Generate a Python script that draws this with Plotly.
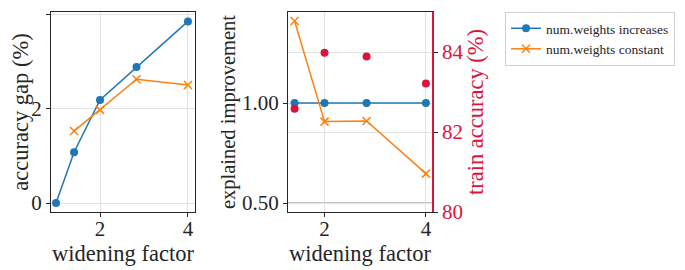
import plotly.graph_objects as go

# Left panel: accuracy gap
x_inc = [1.0, 1.41, 2.0, 2.83, 4.0]
gap_inc = [0.0, 1.08, 2.19, 2.89, 3.86]
x_const = [1.41, 2.0, 2.83, 4.0]
gap_const = [1.53, 1.98, 2.63, 2.51]

# Right panel: explained improvement & train accuracy
x_right = [1.41, 2.0, 2.83, 4.0]
expl_inc = [1.0, 1.0, 1.0, 1.0]
expl_const = [1.41, 0.907, 0.91, 0.647]
train_acc = [82.58, 83.98, 83.89, 83.21]

BLUE = "#1f77b4"
ORANGE = "#ff7f0e"
CRIMSON = "#dc143c"
FONT = "Liberation Serif, serif"
AX = "#262626"
GRID = "#e3e3e3"

# page has an 8px body margin; figure sized to fit visible area
W, H = 677, 262

fig = go.Figure()
fig.add_trace(go.Scatter(x=x_inc, y=gap_inc, mode="lines+markers", name="num.weights increases",
                         line=dict(color=BLUE, width=1.5), marker=dict(symbol="circle", size=8, color=BLUE),
                         xaxis="x", yaxis="y"))
fig.add_trace(go.Scatter(x=x_const, y=gap_const, mode="lines+markers", name="num.weights constant",
                         line=dict(color=ORANGE, width=1.5),
                         marker=dict(symbol="x-thin", size=8, color=ORANGE, line=dict(color=ORANGE, width=1.5)),
                         xaxis="x", yaxis="y"))
fig.add_trace(go.Scatter(x=x_right, y=expl_inc, mode="lines+markers", showlegend=False,
                         line=dict(color=BLUE, width=1.5), marker=dict(symbol="circle", size=8, color=BLUE),
                         xaxis="x2", yaxis="y2"))
fig.add_trace(go.Scatter(x=x_right, y=expl_const, mode="lines+markers", showlegend=False,
                         line=dict(color=ORANGE, width=1.5),
                         marker=dict(symbol="x-thin", size=8, color=ORANGE, line=dict(color=ORANGE, width=1.5)),
                         xaxis="x2", yaxis="y2"))
fig.add_trace(go.Scatter(x=x_right, y=train_acc, mode="markers", showlegend=False,
                         marker=dict(symbol="circle", size=8, color=CRIMSON),
                         xaxis="x2", yaxis="y3"))

tickfont = dict(family=FONT, size=21, color=AX)
titlefont = dict(family=FONT, size=22.5, color=AX)
common = dict(showline=True, linecolor=AX, linewidth=1.2, ticks="outside", ticklen=4,
              tickcolor=AX, tickwidth=1, showgrid=True, gridcolor=GRID, gridwidth=1,
              zeroline=False, tickfont=tickfont, automargin=False)

fig.add_shape(type="line", xref="x2 domain", yref="y2", x0=0, x1=1, y0=0.5, y1=0.5,
              line=dict(color="#c4c4c4", width=2), layer="below")

ydom = [1 - 204 / H, 1 - 4 / H]

fig.update_layout(
    width=W, height=H,
    margin=dict(l=0, r=0, t=0, b=0),
    paper_bgcolor="white", plot_bgcolor="white",
    font=dict(family=FONT, color=AX),
    xaxis=dict(domain=[43 / W, 187 / W], range=[0.886, 4.16], tickvals=[2, 4], mirror=True,
               ticklabelstandoff=-6,
               title=dict(text="widening factor", font=titlefont, standoff=0), anchor="y", **common),
    yaxis=dict(domain=ydom, range=[-0.19, 4.06], tickvals=[0, 2, 4], mirror=True,
               title=dict(text="accuracy gap (%)", font=titlefont, standoff=1), anchor="x", **common),
    xaxis2=dict(domain=[280 / W, 424 / W], range=[1.28, 4.12], tickvals=[2, 4], mirror=True,
                ticklabelstandoff=-6,
                title=dict(text="widening factor", font=titlefont, standoff=0), anchor="y2", **common),
    yaxis2=dict(domain=ydom, range=[0.455, 1.455], tickvals=[0.5, 1.0], ticktext=["0.50", "1.00"],
                title=dict(text="explained improvement", font=dict(family=FONT, size=20.5, color=AX), standoff=0),
                anchor="x2", **common),
    yaxis3=dict(overlaying="y2", side="right", anchor="x2", range=[80, 85], tickvals=[80, 82, 84],
                showline=True, linecolor=CRIMSON, linewidth=1.5, ticks="outside", ticklen=4,
                tickcolor=AX, showgrid=True, gridcolor=GRID, zeroline=False, automargin=False,
                tickfont=dict(family=FONT, size=21, color=CRIMSON),
                title=dict(text="train accuracy (%)", font=dict(family=FONT, size=22.5, color=CRIMSON), standoff=0)),
    legend=dict(x=497 / W, y=1 - 4 / H, xanchor="left", yanchor="top", bordercolor="#d0d0d0", borderwidth=1,
                bgcolor="white", font=dict(family=FONT, size=13.5, color=AX), tracegroupgap=0, itemwidth=30),
)

fig.write_html("out.html")
